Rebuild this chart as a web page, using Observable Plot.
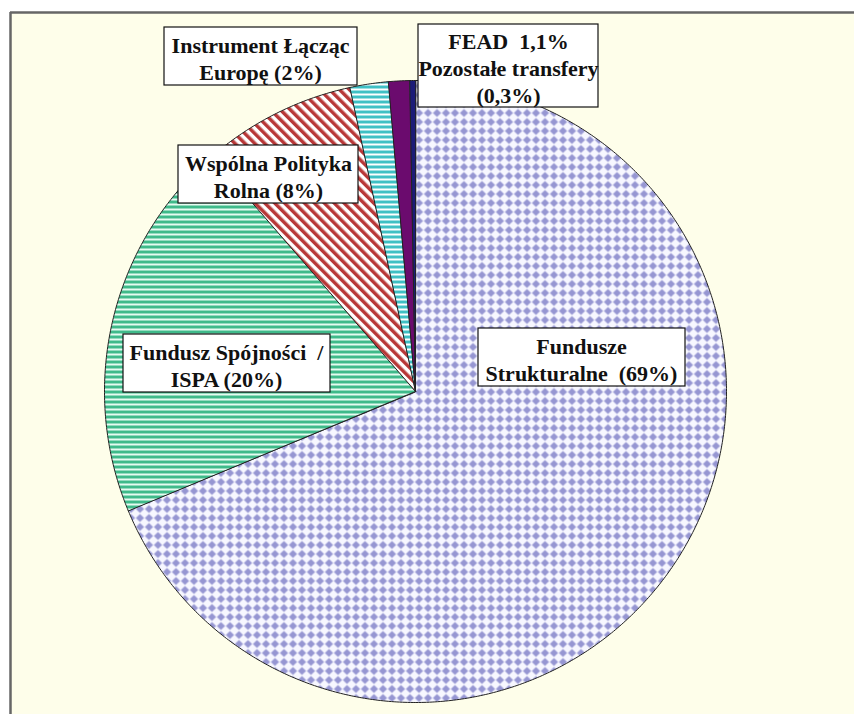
<!DOCTYPE html>
<html>
<head>
<meta charset="utf-8">
<script src="https://cdn.jsdelivr.net/npm/d3@7"></script>
<script src="https://cdn.jsdelivr.net/npm/@observablehq/plot@0.6"></script>
<style>
  html, body { margin: 0; padding: 0; background: #ffffff; }
</style>
</head>
<body>
<div id="chart"></div>
<script>
// ---- data ----
const categories = ["Fundusze Strukturalne", "Fundusz Spójności / ISPA", "Wspólna Polityka Rolna", "Instrument Łącząc Europę", "FEAD", "Pozostałe transfery"];
const shares = [69, 20, 8, 2, 1.1, 0.3];
const sliceFills = ["url(#pStruct)", "url(#pGreen)", "url(#pRed)", "url(#pCyan)", "#6b0b6e", "#1c1c78"];

// label texts (one box may name several slices)
const boxTexts = [
  "Fundusze\nStrukturalne\u00a0\u00a0(69%)",
  "Fundusz Spójności\u00a0\u00a0/\nISPA (20%)",
  "Wspólna Polityka\nRolna (8%)",
  "Instrument Łącząc\nEuropę (2%)",
  "FEAD\u00a0\u00a01,1%\nPozostałe transfery\n(0,3%)"
];

// ---- layout (pixels) ----
const W = 854, H = 714;
const cx = 415, cy = 391, R = 311;
const boxLayout = [
  {x1: 478, x2: 685, y1: 328, y2: 386, tx: 581, ty: 358},
  {x1: 123, x2: 330, y1: 334, y2: 392, tx: 226, ty: 364},
  {x1: 178, x2: 358, y1: 145, y2: 203, tx: 268, ty: 175},
  {x1: 164, x2: 357, y1: 27,  y2: 85,  tx: 260, ty: 57},
  {x1: 418, x2: 598, y1: 24,  y2: 107, tx: 508, ty: 67}
];

// ---- slice geometry from the values ----
const arcs = d3.pie().sort(null).value(d => d.v)(shares.map((v, i) => ({v, i})));
const slicePts = [];
arcs.forEach(a => {
  const i = a.data.i;
  slicePts.push({id: i, x: cx, y: cy, fill: sliceFills[i]});
  const n = Math.max(2, Math.ceil((a.endAngle - a.startAngle) / (Math.PI / 360)));
  for (let k = 0; k <= n; k++) {
    const t = a.startAngle + (a.endAngle - a.startAngle) * k / n;
    slicePts.push({id: i, x: cx + R * Math.sin(t), y: cy - R * Math.cos(t), fill: sliceFills[i]});
  }
});

const boxes = boxLayout.map((b, i) => ({...b, text: boxTexts[i]}));

const svg = Plot.plot({
  width: W,
  height: H,
  margin: 0,
  x: {domain: [0, W], range: [0, W], axis: null},
  y: {domain: [0, H], range: [0, H], axis: null},
  color: {type: "identity"},
  style: {background: "#ffffff", overflow: "visible"},
  marks: [
    Plot.rect([{x1: 10, x2: W, y1: 12, y2: H}], {x1: "x1", x2: "x2", y1: "y1", y2: "y2", fill: "#fefeea"}),
    Plot.ruleY([12], {x1: 10, x2: W, stroke: "#666", strokeWidth: 2.5}),
    Plot.ruleX([10], {y1: 12, y2: H, stroke: "#666", strokeWidth: 2.5}),
    Plot.line(slicePts, {x: "x", y: "y", z: "id", fill: "fill", stroke: "#222", strokeWidth: 1, curve: "linear-closed"}),
    Plot.rect(boxes, {x1: "x1", x2: "x2", y1: "y1", y2: "y2", fill: "white", stroke: "#111", strokeWidth: 1.2}),
    Plot.text(boxes, {x: "tx", y: "ty", text: "text", fontFamily: "'Liberation Serif', serif",
      fontWeight: "bold", fontSize: 22, lineHeight: 1.22, fill: "#111"})
  ]
});

// patterns
const defs = d3.select(svg).insert("defs", ":first-child");
const p1 = defs.append("pattern").attr("id", "pStruct").attr("patternUnits", "userSpaceOnUse")
  .attr("width", 9).attr("height", 9);
p1.append("rect").attr("width", 9).attr("height", 9).attr("fill", "#f7f7ff");
p1.append("polygon").attr("points", "4.5,0.4 8.6,4.5 4.5,8.6 0.4,4.5").attr("fill", "#9696d2");

const p2 = defs.append("pattern").attr("id", "pGreen").attr("patternUnits", "userSpaceOnUse")
  .attr("width", 10).attr("height", 5);
p2.append("rect").attr("width", 10).attr("height", 5).attr("fill", "#e6fbf1");
p2.append("rect").attr("width", 10).attr("height", 3).attr("fill", "#3fba8a");

const p3 = defs.append("pattern").attr("id", "pRed").attr("patternUnits", "userSpaceOnUse")
  .attr("width", 7).attr("height", 7).attr("patternTransform", "rotate(-45)");
p3.append("rect").attr("width", 7).attr("height", 7).attr("fill", "#ffffff");
p3.append("rect").attr("width", 3.5).attr("height", 7).attr("fill", "#b83838");

const p4 = defs.append("pattern").attr("id", "pCyan").attr("patternUnits", "userSpaceOnUse")
  .attr("width", 10).attr("height", 5);
p4.append("rect").attr("width", 10).attr("height", 5).attr("fill", "#ffffff");
p4.append("rect").attr("width", 10).attr("height", 3).attr("fill", "#3fc0c4");

document.getElementById("chart").appendChild(svg);
</script>
</body>
</html>
